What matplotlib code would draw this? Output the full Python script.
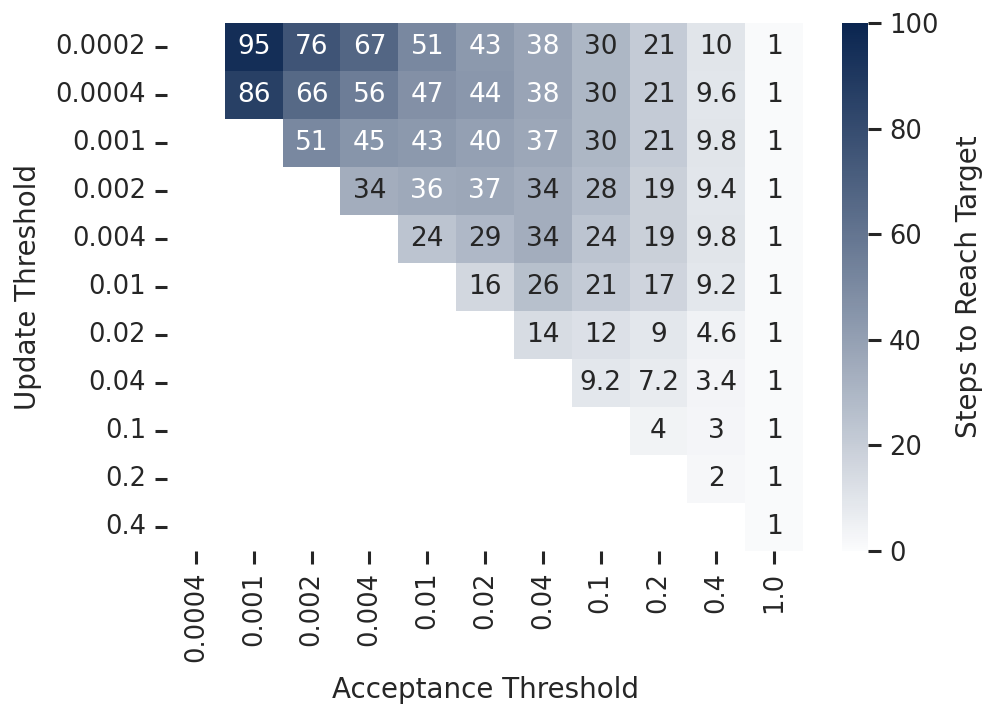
import numpy as np
import matplotlib
matplotlib.use("Agg")
import matplotlib.pyplot as plt
from matplotlib.colors import ListedColormap, Normalize
import seaborn as sns

update_thresholds = ["0.0002", "0.0004", "0.001", "0.002", "0.004", "0.01",
                     "0.02", "0.04", "0.1", "0.2", "0.4"]
acceptance_thresholds = ["0.0004", "0.001", "0.002", "0.004", "0.01", "0.02",
                         "0.04", "0.1", "0.2", "0.4", "1.0"]
nan = np.nan
row_0_0002 = [nan, 95, 76, 67, 51, 43, 38, 30, 21, 10, 1]
row_0_0004 = [nan, 86, 66, 56, 47, 44, 38, 30, 21, 9.6, 1]
row_0_001 = [nan, nan, 51, 45, 43, 40, 37, 30, 21, 9.8, 1]
row_0_002 = [nan, nan, nan, 34, 36, 37, 34, 28, 19, 9.4, 1]
row_0_004 = [nan, nan, nan, nan, 24, 29, 34, 24, 19, 9.8, 1]
row_0_01 = [nan, nan, nan, nan, nan, 16, 26, 21, 17, 9.2, 1]
row_0_02 = [nan, nan, nan, nan, nan, nan, 14, 12, 9, 4.6, 1]
row_0_04 = [nan, nan, nan, nan, nan, nan, nan, 9.2, 7.2, 3.4, 1]
row_0_1 = [nan, nan, nan, nan, nan, nan, nan, nan, 4, 3, 1]
row_0_2 = [nan, nan, nan, nan, nan, nan, nan, nan, nan, 2, 1]
row_0_4 = [nan, nan, nan, nan, nan, nan, nan, nan, nan, nan, 1]

data = np.array([row_0_0002, row_0_0004, row_0_001, row_0_002, row_0_004,
                 row_0_01, row_0_02, row_0_04, row_0_1, row_0_2, row_0_4])


# colormap: white -> navy along the RGB line, eased so lightness (L*) is linear
def lightness(rgb):
    rgb = np.asarray(rgb, float)
    lin = np.where(rgb <= 0.04045, rgb / 12.92, ((rgb + 0.055) / 1.055) ** 2.4)
    Y = lin @ np.array([0.2126, 0.7152, 0.0722])
    return np.where(Y > (6 / 29) ** 3, 116 * np.cbrt(Y) - 16, Y * 903.3)


def rel_lum(rgb):
    rgb = np.asarray(rgb, float)[:3]
    lin = np.where(rgb <= 0.03928, rgb / 12.92, ((rgb + 0.055) / 1.055) ** 2.4)
    return float(lin @ np.array([0.2126, 0.7152, 0.0722]))


start = np.array([0.985, 0.988, 0.992])
end = np.array([10, 37, 80]) / 255.0
s_grid = np.linspace(0, 1, 2001)
line = start[None, :] + (end - start)[None, :] * s_grid[:, None]
L_line = lightness(line)
t_vals = np.linspace(0, 1, 256)
L_target = L_line[0] + (L_line[-1] - L_line[0]) * t_vals
s_of_t = np.interp(-L_target, -L_line, s_grid)
colors = start[None, :] + (end - start)[None, :] * s_of_t[:, None]
cmap = ListedColormap(np.clip(colors, 0, 1))
norm = Normalize(vmin=0, vmax=100)

sns.set_theme(style="ticks")
plt.rcParams["font.family"] = ["DejaVu Sans"]

fig = plt.figure(figsize=(9.96, 7.21), dpi=100)
ax = fig.add_axes([0.1677, 0.2358, 0.6386, 0.7323])
cax = fig.add_axes([0.8454, 0.2358, 0.0261, 0.7323])

sns.heatmap(data, ax=ax, cbar_ax=cax, cmap=cmap, vmin=0, vmax=100,
            annot=False,
            xticklabels=acceptance_thresholds, yticklabels=update_thresholds,
            cbar_kws={"label": "Steps to Reach Target"})

for i in range(data.shape[0]):
    for j in range(data.shape[1]):
        v = data[i, j]
        if np.isnan(v):
            continue
        c = cmap(norm(v))
        tc = ".15" if rel_lum(c) > 0.408 else "w"
        ax.text(j + 0.5, i + 0.5, format(v, "g"), ha="center", va="center",
                fontsize=19, color=tc)

ax.tick_params(axis="both", length=9, width=2.2, labelsize=18.5, pad=6,
               color="#262626", labelcolor="#262626")
ax.set_xticklabels(acceptance_thresholds, rotation=90)
ax.set_yticklabels(update_thresholds, rotation=0)
ax.set_xlabel("Acceptance Threshold", fontsize=20, labelpad=10, color="#262626")
ax.set_ylabel("Update Threshold", fontsize=20, labelpad=10, color="#262626")

cax.tick_params(length=9, width=2.2, labelsize=18.5, pad=6, color="#262626",
                labelcolor="#262626")
cax.yaxis.label.set_size(20)
cax.yaxis.labelpad = 12
cax.set_yticks([0, 20, 40, 60, 80, 100])

fig.savefig("out.png", dpi=100)
